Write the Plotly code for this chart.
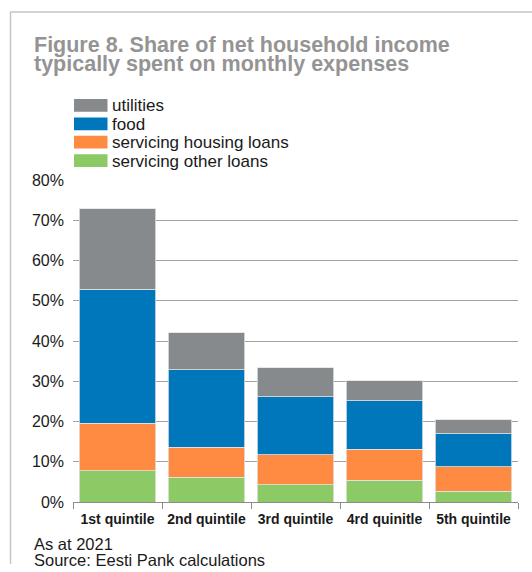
import plotly.graph_objects as go

# ---- data -------------------------------------------------------------
quintiles = ["1st quintile", "2nd quintile", "3rd quintile", "4rd quinitle", "5th quintile"]

other_loans = [7.8, 6.1, 4.3, 5.4, 2.7]
housing_loans = [11.8, 7.5, 7.4, 7.7, 6.1]
food = [33.2, 19.3, 14.4, 12.0, 8.1]
utilities = [20.0, 9.1, 7.2, 5.0, 3.5]

series_names = ["utilities", "food", "servicing housing loans", "servicing other loans"]
series_colors = ["#868a8d", "#0077bb", "#ff8b42", "#8bca64"]
series_values = [utilities, food, housing_loans, other_loans]

y_ticks = [0, 10, 20, 30, 40, 50, 60, 70, 80]

title_lines = ["Figure 8. Share of net household income",
               "typically spent on monthly expenses"]
footer_lines = ["As at 2021", "Source: Eesti Pank calculations"]

# ---- layout geometry (pixels) -----------------------------------------
W, H = 532, 572
L, R, T, B = 73, 14, 180, 70
PW, PH = W - L - R, H - T - B
FONT = "Liberation Sans, Arial, sans-serif"


def fx(px):
    return (px - L) / PW


def fy(py):
    return (H - B - py) / PH


fig = go.Figure()

# stacked from the bottom segment upward
for name, vals, col in reversed(list(zip(series_names, series_values, series_colors))):
    fig.add_trace(go.Bar(
        x=quintiles, y=vals, name=name,
        marker=dict(color=col, line=dict(color="#e2e2e2", width=0.8)),
        showlegend=False,
    ))

shapes = []
annotations = []

# outer frame lines (left and top)
frame_col = "#c6c6c6"
shapes.append(dict(type="line", xref="paper", yref="paper",
                   x0=fx(10.5), x1=fx(10.5), y0=fy(12), y1=fy(564),
                   line=dict(color=frame_col, width=1.5)))
shapes.append(dict(type="line", xref="paper", yref="paper",
                   x0=fx(10), x1=fx(532), y0=fy(12), y1=fy(12),
                   line=dict(color=frame_col, width=1.5)))

# title
for i, line in enumerate(title_lines):
    annotations.append(dict(
        text=line, xref="paper", yref="paper", x=fx(32), y=fy(45 + 18.5 * i),
        xanchor="left", yanchor="middle", showarrow=False,
        font=dict(family=FONT, size=21.5, color="#949494", weight="bold"),
    ))

# legend (swatch + label)
for i, (name, col) in enumerate(zip(series_names, series_colors)):
    top = 99 + 18.4 * i
    shapes.append(dict(type="rect", xref="paper", yref="paper",
                       x0=fx(74), x1=fx(107.5), y0=fy(top), y1=fy(top + 12.8),
                       fillcolor=col, line=dict(width=0)))
    annotations.append(dict(
        text=name, xref="paper", yref="paper", x=fx(109.5), y=fy(top + 7),
        xanchor="left", yanchor="middle", showarrow=False,
        font=dict(family=FONT, size=17, color="#1a1a1a"),
    ))

# footer notes
for i, line in enumerate(footer_lines):
    annotations.append(dict(
        text=line, xref="paper", yref="paper", x=fx(32), y=fy(544 + 15.5 * i),
        xanchor="left", yanchor="middle", showarrow=False,
        font=dict(family=FONT, size=16.5, color="#1a1a1a"),
    ))

fig.update_layout(
    width=W, height=H,
    margin=dict(l=L, r=R, t=T, b=B, pad=0),
    paper_bgcolor="white", plot_bgcolor="white",
    barmode="stack", bargap=0.135,
    shapes=shapes, annotations=annotations,
    font=dict(family=FONT),
)

fig.update_xaxes(
    showline=True, linecolor="#8c8c8c", linewidth=1,
    ticks="outside", tickson="boundaries", ticklen=6, tickcolor="#8c8c8c",
    ticklabelstandoff=4,
    tickfont=dict(family=FONT, size=14, color="#1a1a1a", weight="bold"),
    showgrid=False, zeroline=False,
)
fig.update_yaxes(
    range=[0, 80], tickvals=y_ticks, ticktext=[f"{v}%" for v in y_ticks],
    showgrid=True, gridcolor="#a3a3a3", gridwidth=1,
    zeroline=False, showline=False, ticks="",
    ticklabelstandoff=8,
    tickfont=dict(family=FONT, size=16, color="#1a1a1a"),
)

fig.write_html("out.html")
